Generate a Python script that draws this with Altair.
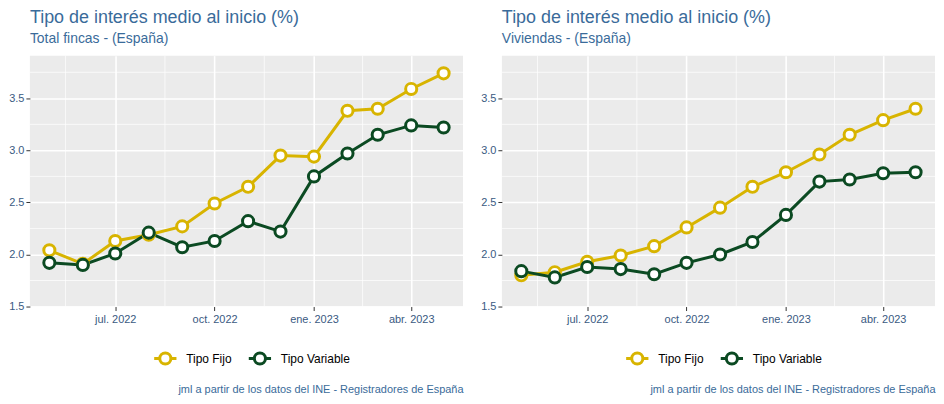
import altair as alt
import pandas as pd

fechas = ["2022-05-01", "2022-06-01", "2022-07-01", "2022-08-01", "2022-09-01", "2022-10-01",
          "2022-11-01", "2022-12-01", "2023-01-01", "2023-02-01", "2023-03-01", "2023-04-01",
          "2023-05-01"]

total_fijo = [2.04, 1.91, 2.13, 2.19, 2.27, 2.49, 2.65, 2.95, 2.94, 3.38, 3.40, 3.59, 3.74]
total_variable = [1.92, 1.90, 2.01, 2.21, 2.07, 2.13, 2.32, 2.22, 2.75, 2.97, 3.15, 3.24, 3.22]
viv_fijo = [1.80, 1.83, 1.93, 1.99, 2.08, 2.26, 2.45, 2.65, 2.79, 2.96, 3.15, 3.29, 3.40]
viv_variable = [1.84, 1.78, 1.88, 1.86, 1.81, 1.92, 2.00, 2.12, 2.38, 2.70, 2.72, 2.78, 2.79]

series = ["Tipo Fijo", "Tipo Variable"]
colores = ["#D8B400", "#0B4A22"]

y_ticks = [1.5, 2.0, 2.5, 3.0, 3.5]
y_minor = [1.75, 2.25, 2.75, 3.25, 3.75]
x_ticks = ["2022-07-01", "2022-10-01", "2023-01-01", "2023-04-01"]
x_minor = ["2022-05-16", "2022-08-16", "2022-11-16", "2023-02-15"]
meses = ["ene.", "feb.", "mar.", "abr.", "may.", "jun.", "jul.", "ago.", "sep.", "oct.", "nov.", "dic."]

titulo = "Tipo de interés medio al inicio (%)"
caption = "jml a partir de los datos del INE - Registradores de España"

TXT = "#3A6B9A"
LAB = "#3A5A82"
FONT = "Liberation Sans"


def dt(s):
    y, m, d = [int(v) for v in s.split("-")]
    return alt.DateTime(year=y, month=m, date=d, utc=True)


def panel(fijo, variable, subtitulo):
    df = pd.DataFrame({
        "fecha": fechas * 2,
        "valor": fijo + variable,
        "serie": [series[0]] * len(fechas) + [series[1]] * len(fechas),
    })
    xscale = alt.Scale(type="utc", domain=[dt("2022-04-13"), dt("2023-05-19")], nice=False)
    yscale = alt.Scale(domain=[1.5, 3.91], nice=False, zero=False)
    labexpr = "[" + ",".join("'%s'" % m for m in meses) + "][utcmonth(datum.value)] + ' ' + utcyear(datum.value)"
    xaxis = alt.Axis(values=[dt(v) for v in x_ticks], labelExpr=labexpr, title=caption,
                     titleAnchor="end", titleColor=TXT, titleFontSize=11, titleFontWeight="normal",
                     titlePadding=59, labelColor=LAB, labelFontSize=11, grid=True,
                     gridColor="white", gridWidth=1.6, tickColor="#333333", tickSize=4,
                     domain=False, labelPadding=3, labelFont=FONT, titleFont=FONT)
    yaxis = alt.Axis(values=y_ticks, format=".1f", title=None, labelColor=LAB, labelFontSize=11,
                     grid=True, gridColor="white", gridWidth=1.6, tickColor="#333333",
                     tickSize=4, domain=False, labelPadding=2, labelFont=FONT)

    minor_y = alt.Chart(pd.DataFrame({"v": y_minor})).mark_rule(color="white", strokeWidth=0.7).encode(
        y=alt.Y("v:Q", scale=yscale, axis=yaxis))
    minor_x = alt.Chart(pd.DataFrame({"f": x_minor})).mark_rule(color="white", strokeWidth=0.7).encode(
        x=alt.X("f:T", scale=xscale, axis=xaxis))

    stroke = alt.Stroke("serie:N", scale=alt.Scale(domain=series, range=colores),
                        legend=alt.Legend(
                            title=None, orient="none", direction="horizontal",
                            legendX=123, legendY=291,
                            symbolType="M-1,0L-0.5,0M0.5,0L1,0M-0.5,0A0.5,0.5,0,1,1,0.5,0A0.5,0.5,0,1,1,-0.5,0Z",
                            symbolSize=500, symbolStrokeWidth=3, symbolFillColor="white",
                            labelFontSize=12, labelColor="black", labelFont=FONT,
                            labelOffset=8, columnPadding=10))
    base = alt.Chart(df).encode(
        x=alt.X("fecha:T", scale=xscale, axis=xaxis),
        y=alt.Y("valor:Q", scale=yscale, axis=yaxis),
        stroke=stroke,
    )
    lineas = base.mark_line(strokeWidth=3)
    puntos = base.mark_point(filled=True, fill="white", size=125, strokeWidth=3, opacity=1)
    return alt.layer(minor_y, minor_x, lineas, puntos).properties(
        width=435, height=252,
        title=alt.TitleParams(text=titulo, subtitle=subtitulo, anchor="start", frame="group",
                              fontSize=18, subtitleFontSize=14, color=TXT, subtitleColor=TXT,
                              fontWeight="normal", font=FONT, subtitleFont=FONT,
                              subtitlePadding=5, offset=9),
    )


chart = alt.hconcat(
    panel(total_fijo, total_variable, "Total fincas - (España)"),
    panel(viv_fijo, viv_variable, "Viviendas - (España)"),
    spacing=16,
).resolve_scale(stroke="independent").resolve_legend(stroke="independent").configure_view(
    fill="#EBEBEB", stroke=None
).properties(padding={"left": 0, "top": 0, "right": 0, "bottom": 0})

chart.save("out.html", embed_options={"renderer": "svg", "actions": False})
